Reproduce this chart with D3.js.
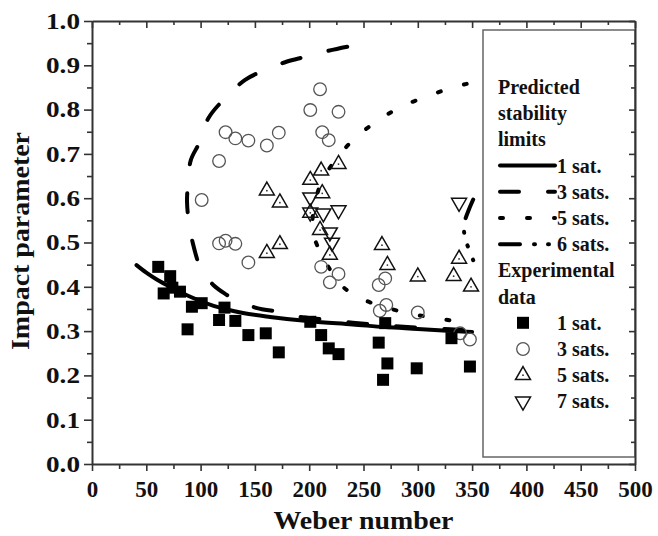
<!DOCTYPE html>
<html>
<head>
<meta charset="utf-8">
<script src="https://cdn.jsdelivr.net/npm/d3@7"></script>
<style>
body { margin: 0; background: #fff; }
text { font-family: "Liberation Serif", "Times New Roman", serif; font-weight: bold; fill: #111; }
</style>
</head>
<body>
<svg id="chart" width="658" height="536"></svg>
<script>
// measured points (Weber number, impact parameter)
var sat1Data = [[61,0.445],[66,0.385],[72,0.424],[74,0.398],[81,0.389],[88,0.304],[92,0.355],[101,0.363],
    [117,0.325],[122,0.353],[132,0.323],[144,0.291],[160,0.295],[172,0.252],[201,0.321],[211,0.291],
    [218,0.261],[227,0.248],[264,0.274],[268,0.190],[270,0.318],[272,0.227],[299,0.216],[331,0.284],[348,0.220]];
var sat3Data = [[101,0.596],[117,0.684],[123,0.749],[132,0.735],[144,0.730],[161,0.719],[172,0.748],
    [201,0.799],[210,0.846],[212,0.749],[218,0.731],[227,0.795],[117,0.498],[123,0.504],[132,0.497],
    [144,0.455],[211,0.445],[219,0.410],[227,0.429],[264,0.404],[270,0.419],[265,0.346],[271,0.359],
    [300,0.342],[339,0.295],[348,0.281]];
var sat5Data = [[161,0.617],[173,0.590],[173,0.496],[161,0.476],[201,0.641],[211,0.662],[212,0.611],
    [227,0.677],[201,0.567],[210,0.528],[219,0.472],[267,0.494],[272,0.449],[300,0.423],[338,0.463],
    [333,0.424],[349,0.400]];
var sat7Data = [[201,0.602],[201,0.568],[213,0.566],[227,0.573],[219,0.523],[221,0.500],[338,0.590]];

// predicted stability limits
var limit1 = [[41,0.449],[50,0.432],[60,0.416],[72,0.400],[90,0.378],[112,0.357],[139,0.341],[164,0.332],
    [201,0.322],[240,0.315],[270,0.309],[300,0.305],[327,0.301],[350,0.298]];
var limit3 = [[235,0.942],[216,0.932],[196,0.919],[179,0.908],[159,0.889],[141,0.867],[121,0.822],
    [107,0.780],[99,0.726],[91,0.686],[88.5,0.634],[87.5,0.592],[89.5,0.540],[92.5,0.502],[99.4,0.445],
    [105,0.424],[111.7,0.404],[122,0.385],[133,0.370],[152,0.352],[170,0.344],[189,0.333],[210,0.327],
    [240,0.319],[270,0.313],[300,0.308],[330,0.304],[350,0.301]];
var limit5 = [[345,0.858],[332,0.850],[310,0.831],[286,0.808],[265,0.778],[241,0.733],[222,0.679],
    [211,0.635],[205,0.585],[203,0.545],[205,0.509],[216,0.452],[231,0.400],[253,0.368],[277,0.349],
    [300,0.336],[322,0.327],[350,0.318]];
var limit6 = [[351,0.597],[347,0.574],[343.5,0.550],[342.5,0.530],[344,0.505],[347.5,0.483],[351,0.460]];

var xTicks = [0,50,100,150,200,250,300,350,400,450,500];
var xMinor = [25,75,125,175,225,275,325,375,425,475];
var yTicks = [0.0,0.1,0.2,0.3,0.4,0.5,0.6,0.7,0.8,0.9,1.0];
var yMinor = [0.05,0.15,0.25,0.35,0.45,0.55,0.65,0.75,0.85,0.95];

var predictedLabels = ['1 sat.', '3 sats.', '5 sats.', '6 sats.'];
var experimentLabels = ['1 sat.', '3 sats.', '5 sats.', '7 sats.'];

var svg = d3.select('#chart');
var x = d3.scaleLinear().domain([0, 500]).range([92, 635]);
var y = d3.scaleLinear().domain([0, 1]).range([464, 21]);

var lineStyles = [
    { data: limit1, dash: null },
    { data: limit3, dash: '19,29' },
    { data: limit5, dash: '3,24' },
    { data: limit6, dash: '20,14,1,13,1,14' }
];

var line = d3.line()
    .x(function(d) { return x(d[0]); })
    .y(function(d) { return y(d[1]); })
    .curve(d3.curveCatmullRom.alpha(0.5));

// legend box first, axes go on top of it
svg.append('rect')
    .attr('x', 483).attr('y', 30).attr('width', 152).attr('height', 427)
    .attr('fill', '#fff').attr('stroke', '#666').attr('stroke-width', 1.5);

lineStyles.forEach(function(s) {
    svg.append('path')
        .attr('d', line(s.data))
        .attr('fill', 'none')
        .attr('stroke', '#000')
        .attr('stroke-width', 4)
        .attr('stroke-linecap', 'round')
        .attr('stroke-dasharray', s.dash);
});

var squareSym = d3.symbol().type(d3.symbolSquare).size(144);
var circleSym = d3.symbol().type(d3.symbolCircle).size(125);
var triSym = d3.symbol().type(d3.symbolTriangle).size(97);

function drawSquares(g, data) {
    g.selectAll('path.sq').data(data).enter().append('path')
        .attr('class', 'sq')
        .attr('d', squareSym)
        .attr('transform', function(d) { return 'translate(' + x(d[0]) + ',' + y(d[1]) + ')'; })
        .attr('fill', '#000');
}
function drawCircles(g, data) {
    g.selectAll('path.ci').data(data).enter().append('path')
        .attr('class', 'ci')
        .attr('d', circleSym)
        .attr('transform', function(d) { return 'translate(' + x(d[0]) + ',' + y(d[1]) + ')'; })
        .attr('fill', 'none').attr('stroke', '#555').attr('stroke-width', 1.3);
}
function drawUp(g, data) {
    var t = g.selectAll('g.up').data(data).enter().append('g')
        .attr('class', 'up')
        .attr('transform', function(d) { return 'translate(' + x(d[0]) + ',' + y(d[1]) + ')'; });
    t.append('path').attr('d', triSym)
        .attr('fill', 'none').attr('stroke', '#111').attr('stroke-width', 1.5);
    t.append('circle').attr('r', 0.9).attr('fill', '#333');
}
function drawDown(g, data) {
    g.selectAll('path.dn').data(data).enter().append('path')
        .attr('class', 'dn')
        .attr('d', triSym)
        .attr('transform', function(d) { return 'translate(' + x(d[0]) + ',' + y(d[1]) + ') rotate(180)'; })
        .attr('fill', 'none').attr('stroke', '#111').attr('stroke-width', 1.5);
}

var marks = svg.append('g');
drawCircles(marks, sat3Data);
drawUp(marks, sat5Data);
drawDown(marks, sat7Data);
drawSquares(marks, sat1Data);

// axes
function styleAxis(g) {
    g.select('.domain').attr('stroke', '#333').attr('stroke-width', 2);
    g.selectAll('.tick line').attr('stroke', '#333').attr('stroke-width', 1.6);
    g.attr('font-family', null).attr('font-size', null);
}

var gx = svg.append('g').attr('transform', 'translate(0,464)')
    .call(d3.axisBottom(x).tickValues(xTicks).tickSize(7).tickSizeOuter(0).tickPadding(10)
        .tickFormat(d3.format('d')));
styleAxis(gx);
gx.selectAll('text').style('font-size', '23px');
var gxm = svg.append('g').attr('transform', 'translate(0,464)')
    .call(d3.axisBottom(x).tickValues(xMinor).tickSize(5).tickSizeOuter(0).tickFormat(''));
styleAxis(gxm);
gxm.select('.domain').remove();

var gy = svg.append('g').attr('transform', 'translate(92,0)')
    .call(d3.axisLeft(y).tickValues(yTicks).tickSize(8).tickSizeOuter(0).tickPadding(4)
        .tickFormat(d3.format('.1f')));
styleAxis(gy);
gy.selectAll('text').style('font-size', '23px')
    .attr('textLength', 34).attr('lengthAdjust', 'spacingAndGlyphs');
var gym = svg.append('g').attr('transform', 'translate(92,0)')
    .call(d3.axisLeft(y).tickValues(yMinor).tickSize(5).tickSizeOuter(0).tickFormat(''));
styleAxis(gym);
gym.select('.domain').remove();

var gt = svg.append('g').attr('transform', 'translate(0,21)')
    .call(d3.axisTop(x).tickValues(xTicks).tickSize(-7).tickSizeOuter(0).tickFormat(''));
styleAxis(gt);
var gtm = svg.append('g').attr('transform', 'translate(0,21)')
    .call(d3.axisTop(x).tickValues(xMinor).tickSize(-4).tickSizeOuter(0).tickFormat(''));
styleAxis(gtm);
gtm.select('.domain').remove();

var gr = svg.append('g').attr('transform', 'translate(635,0)')
    .call(d3.axisRight(y).tickValues(yTicks).tickSize(-6).tickSizeOuter(0).tickFormat(''));
styleAxis(gr);
var grm = svg.append('g').attr('transform', 'translate(635,0)')
    .call(d3.axisRight(y).tickValues(yMinor).tickSize(-4).tickSizeOuter(0).tickFormat(''));
styleAxis(grm);
grm.select('.domain').remove();

// axis titles
svg.append('text')
    .attr('x', 363.5).attr('y', 529)
    .attr('text-anchor', 'middle')
    .style('font-size', '26px')
    .attr('textLength', 180).attr('lengthAdjust', 'spacingAndGlyphs')
    .text('Weber number');
svg.append('text')
    .attr('transform', 'translate(29,241) rotate(-90)')
    .attr('text-anchor', 'middle')
    .style('font-size', '25px')
    .attr('textLength', 218).attr('lengthAdjust', 'spacingAndGlyphs')
    .text('Impact parameter');

// legend
var legend = svg.append('g');
var rowY = function(i) { return 94 + 26.2 * i; };
['Predicted', 'stability', 'limits'].forEach(function(t, i) {
    legend.append('text').attr('x', 498).attr('y', rowY(i)).style('font-size', '20px').text(t);
});
predictedLabels.forEach(function(t, i) {
    var by = rowY(i + 3);
    legend.append('path')
        .attr('d', 'M500,' + (by - 7) + 'H555')
        .attr('stroke', '#000').attr('stroke-width', 4).attr('stroke-linecap', 'round')
        .attr('stroke-dasharray', lineStyles[i].dash);
    legend.append('text').attr('x', 557).attr('y', by).style('font-size', '20px').text(t);
});
['Experimental', 'data'].forEach(function(t, i) {
    legend.append('text').attr('x', 498).attr('y', rowY(i + 7)).style('font-size', '20px').text(t);
});
var legendMarks = [drawSquares, drawCircles, drawUp, drawDown];
experimentLabels.forEach(function(t, i) {
    var by = rowY(i + 9);
    var g = legend.append('g');
    legendMarks[i](g, [[x.invert(523), y.invert(by - 7)]]);
    legend.append('text').attr('x', 557).attr('y', by).style('font-size', '20px').text(t);
});
</script>
</body>
</html>
